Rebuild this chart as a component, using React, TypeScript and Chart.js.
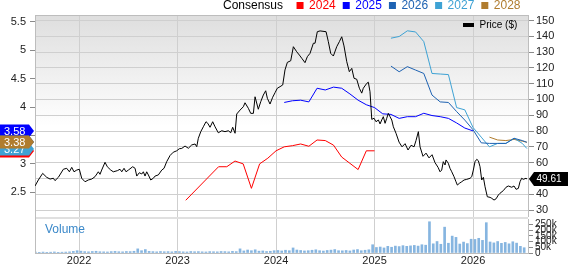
import React, { useEffect, useRef } from 'react';
import { Chart, registerables } from 'chart.js';

Chart.register(...registerables);

const FONT = 'Liberation Sans, Arial, sans-serif';

// ---- axis ranges / ticks ----
const xMin = 2021.553;
const xMax = 2026.558;
const yearTicks = [2022, 2023, 2024, 2025, 2026];
const epsMin = 2.066;
const epsMax = 5.618;
const epsTicks = [2.5, 3, 3.5, 4, 4.5, 5, 5.5];
const priceMin = 25.57;
const priceMax = 153.48;
const priceTicks = [30, 40, 50, 60, 70, 80, 90, 100, 110, 120, 130, 140, 150];
const volMax = 296;
const volTicks = [0, 50, 100, 150, 200, 250];

// ---- price (decimal year, $) ----
const priceDates = [2021.553,2021.587,2021.631,2021.672,2021.706,2021.739,2021.756,2021.790,2021.841,2021.875,2021.902,2021.926,2021.949,2021.977,2022.003,2022.027,2022.061,2022.094,2022.129,2022.162,2022.196,2022.213,2022.230,2022.264,2022.287,2022.322,2022.348,2022.389,2022.416,2022.434,2022.457,2022.477,2022.501,2022.545,2022.569,2022.586,2022.612,2022.637,2022.653,2022.670,2022.687,2022.704,2022.728,2022.754,2022.772,2022.805,2022.840,2022.863,2022.890,2022.924,2022.957,2022.992,2023.018,2023.043,2023.076,2023.110,2023.144,2023.178,2023.195,2023.211,2023.236,2023.262,2023.289,2023.307,2023.330,2023.357,2023.381,2023.414,2023.449,2023.482,2023.516,2023.540,2023.560,2023.584,2023.601,2023.635,2023.668,2023.685,2023.719,2023.743,2023.770,2023.787,2023.820,2023.845,2023.871,2023.895,2023.912,2023.939,2023.966,2023.990,2024.013,2024.041,2024.068,2024.091,2024.115,2024.149,2024.176,2024.210,2024.237,2024.261,2024.294,2024.318,2024.345,2024.379,2024.396,2024.419,2024.447,2024.508,2024.531,2024.555,2024.582,2024.616,2024.643,2024.667,2024.690,2024.718,2024.744,2024.769,2024.792,2024.819,2024.846,2024.870,2024.886,2024.921,2024.937,2024.954,2024.972,2024.995,2025.015,2025.039,2025.056,2025.073,2025.089,2025.107,2025.124,2025.140,2025.157,2025.175,2025.191,2025.218,2025.249,2025.279,2025.310,2025.340,2025.371,2025.401,2025.421,2025.445,2025.462,2025.492,2025.523,2025.553,2025.584,2025.614,2025.645,2025.665,2025.682,2025.698,2025.716,2025.726,2025.749,2025.766,2025.784,2025.807,2025.827,2025.841,2025.861,2025.885,2025.909,2025.936,2025.970,2025.987,2026.003,2026.020,2026.038,2026.054,2026.071,2026.088,2026.105,2026.122,2026.145,2026.173,2026.190,2026.213,2026.234,2026.257,2026.274,2026.308,2026.335,2026.358,2026.393,2026.416,2026.437,2026.460,2026.477,2026.494,2026.510,2026.538,2026.548];
const priceValues = [45.2,49.0,53.2,50.7,49.6,50.1,48.6,50.7,55.8,56.4,54.2,57.0,54.2,55.3,55.8,50.1,47.9,49.0,49.6,51.1,54.2,52.6,55.3,60.2,57.4,55.3,54.2,54.9,55.8,54.2,56.4,54.2,55.3,57.4,56.4,51.5,53.6,52.8,54.2,51.5,54.2,52.2,49.0,50.1,51.5,52.2,55.3,56.4,60.6,64.5,66.6,67.5,68.8,69.0,70.5,69.1,71.2,71.8,70.1,75.4,79.6,82.7,85.9,84.9,82.4,85.9,82.7,78.9,80.2,79.6,80.2,78.9,82.4,78.6,90.8,93.3,95.4,97.9,94.4,91.2,91.2,101.7,93.8,98.6,102.8,105.5,100.7,97.1,101.4,104.3,107.1,108.1,109.2,118.7,123.5,124.5,133.4,130.2,128.1,126.1,123.3,127.1,129.2,135.6,135.6,142.9,143.4,142.9,136.6,129.2,127.5,133.4,136.6,139.7,133.9,123.9,117.6,119.7,113.4,112.8,107.1,104.0,107.1,110.2,110.9,104.9,87.4,88.1,85.9,87.0,84.5,87.0,89.1,84.9,88.1,91.2,89.1,87.0,82.7,78.6,73,70,72,68,71,70,74,79.6,70,64,66,63,65,60,57,54.2,55.3,60.6,58.5,61.7,59.6,56.4,54.2,51.1,47.9,45.8,46.9,47.9,49.0,49.4,50.1,51.1,55.3,60.6,62.1,61.2,57.4,49.0,50.7,44.7,38.4,38.0,37.4,36.3,37.1,39.5,40.6,42.3,44.4,45.2,44.4,45.2,43.1,43.7,47.9,50.1,49.4,50.1,49.61];
const lastPrice = 49.61;

// ---- consensus EPS (monthly, from start month) ----
const consensusLatestDate = '2026-07-18';
const eps2024Start = '2023-02';
const eps2024Values = [2.36, null, null, null, 2.95, 2.95, 3.05, 3.00, 2.57, 3.00, 3.10, 3.23, 3.30, 3.32, 3.35, 3.31, 3.42, 3.41, 3.33, 3.12, 3.01, 2.90, 3.23, 3.23];
const eps2025Start = '2024-02';
const eps2025Values = [4.08, 4.11, 4.12, 4.09, 4.33, 4.30, 4.35, 4.33, 4.23, 4.12, 4.04, 3.99, 3.88, 3.87, 3.80, 3.83, 3.83, 3.89, 3.85, 3.83, 3.80, 3.72, 3.63, 3.58];
const eps2026Start = '2025-03';
const eps2026Values = [4.72, 4.62, 4.71, 4.65, 4.59, 4.21, 4.09, 4.08, 3.92, 3.77, 3.60, 3.37, 3.36, 3.36, 3.36, 3.45, 3.41];
const eps2026Latest = 3.38;
const eps2027Start = '2025-03';
const eps2027Values = [5.21, 5.24, 5.34, 5.32, 5.15, 4.59, 4.58, 4.57, 3.99, 3.95, 3.64, 3.47, 3.30, 3.36, 3.36, 3.45, 3.36];
const eps2027Latest = 3.27;
const eps2028Start = '2026-03';
const eps2028Values = [3.47, 3.42, 3.41, 3.43, 3.40];
const eps2028Latest = 3.38;

const consensusYears = ['2024', '2025', '2026', '2027', '2028'];
const consensusColors = ['#ff0000', '#0000ff', '#1e62b2', '#3ea2d4', '#b07c2e'];

// ---- volume (thousands, two-week buckets) ----
const vol2021 = [7, 6, 8, 6, 7, 9, 6, 7, 8, 10, 14, 20];
const vol2022 = [16, 12, 10, 13, 15, 11, 10, 9, 12, 14, 11, 10, 13, 12, 15, 36, 20, 30, 14, 12, 10, 13, 11, 12, 10, 14];
const vol2023 = [12, 10, 9, 13, 11, 12, 10, 9, 12, 11, 10, 13, 12, 10, 14, 12, 36, 18, 26, 20, 28, 16, 18, 13, 15, 20];
const vol2024 = [22, 18, 24, 20, 44, 26, 22, 18, 20, 24, 28, 20, 17, 22, 25, 30, 20, 19, 22, 18, 26, 30, 20, 24, 28, 72];
const vol2025 = [48, 52, 44, 58, 50, 60, 56, 64, 58, 62, 66, 60, 72, 68, 272, 80, 100, 76, 225, 85, 147, 136, 78, 95, 82, 120];
const vol2026 = [118, 128, 110, 264, 96, 88, 100, 84, 92, 80, 98, 86, 58, 46];

function monthToYear(s: string): number {
  const [y, m, d] = s.split('-').map(Number);
  return y + (m - 1) / 12 + (d ? (d - 1) / 365 : 0);
}

function monthlySeries(start: string, values: (number | null)[], latest?: number) {
  const s = monthToYear(start);
  const pts = values.map((v, i) => ({ x: s + i / 12, y: v }));
  if (latest !== undefined) pts.push({ x: monthToYear(consensusLatestDate), y: latest });
  return pts;
}

function volumePoints() {
  const pts: { x: number; y: number }[] = [];
  vol2021.forEach((v, i) => pts.push({ x: 2022 - (vol2021.length - i - 0.5) / 26, y: v }));
  const years: [number, number[]][] = [[2022, vol2022], [2023, vol2023], [2024, vol2024], [2025, vol2025], [2026, vol2026]];
  years.forEach(([yr, arr]) => arr.forEach((v, i) => pts.push({ x: yr + (i + 0.5) / 26, y: v })));
  return pts;
}

const GRID = '#cfcfcf';
const BORDER = '#bdbdbd';
const TICKC = '#8a8a8a';
const LABEL = '#222222';

const noPad = (s: any) => {
  s.paddingTop = 0;
  s.paddingBottom = 0;
  s.paddingLeft = 0;
  s.paddingRight = 0;
};

const bgPlugin = {
  id: 'bgA',
  beforeDraw(chart: any) {
    const { ctx, chartArea } = chart;
    const { left, top, right, bottom } = chartArea;
    const g = ctx.createLinearGradient(0, top, 0, bottom);
    g.addColorStop(0, '#dedede');
    g.addColorStop(0.55, '#ffffff');
    g.addColorStop(1, '#ffffff');
    ctx.save();
    ctx.fillStyle = g;
    ctx.fillRect(left, top, right - left, bottom - top);
    ctx.restore();
  },
};

function lastOf(arr: (number | null)[]) {
  for (let i = arr.length - 1; i >= 0; i--) if (arr[i] !== null) return arr[i] as number;
  return 0;
}

const overlayPlugin = {
  id: 'overlayA',
  afterDraw(chart: any) {
    const { ctx, chartArea, scales } = chart;
    const { left, top, right } = chartArea;
    ctx.save();
    // top border
    ctx.strokeStyle = BORDER;
    ctx.lineWidth = 1;
    ctx.beginPath();
    ctx.moveTo(left, top + 0.5);
    ctx.lineTo(right, top + 0.5);
    ctx.stroke();

    // consensus legend
    ctx.font = `12px ${FONT}`;
    ctx.textBaseline = 'middle';
    ctx.textAlign = 'left';
    let x = 223;
    ctx.fillStyle = '#000';
    ctx.fillText('Consensus', x, 6);
    x += ctx.measureText('Consensus').width + 13.5;
    consensusYears.forEach((yr, i) => {
      ctx.fillStyle = consensusColors[i];
      ctx.fillRect(x, 2, 7, 7);
      x += 7 + 5.5;
      ctx.fillText(yr, x, 6);
      x += ctx.measureText(yr).width + 7;
    });

    // price legend
    ctx.fillStyle = '#000';
    ctx.fillRect(463, 23, 11, 4);
    ctx.font = `10px ${FONT}`;
    ctx.fillText('Price ($)', 479.5, 25.5);

    // left EPS badges
    const yEps = scales.yEps;
    const badges: [number, string][] = [
      [lastOf(eps2025Values), consensusColors[1]],
      [lastOf(eps2024Values), consensusColors[0]],
      [eps2026Latest, consensusColors[2]],
      [eps2027Latest, consensusColors[3]],
      [eps2028Latest, consensusColors[4]],
    ];
    ctx.font = `11px ${FONT}`;
    badges.forEach(([v, c]) => {
      const y = Math.round(yEps.getPixelForValue(v));
      ctx.fillStyle = c;
      ctx.beginPath();
      ctx.moveTo(0, y - 6.5);
      ctx.lineTo(29, y - 6.5);
      ctx.lineTo(34, y);
      ctx.lineTo(29, y + 6.5);
      ctx.lineTo(0, y + 6.5);
      ctx.closePath();
      ctx.fill();
      ctx.fillStyle = '#ffffff';
      ctx.fillText(v.toFixed(2), 4, y + 0.5);
    });

    // right price badge
    const yP = Math.round(scales.yPrice.getPixelForValue(lastPrice));
    ctx.fillStyle = '#000';
    ctx.beginPath();
    ctx.moveTo(right + 1, yP);
    ctx.lineTo(right + 6, yP - 7);
    ctx.lineTo(568, yP - 7);
    ctx.lineTo(568, yP + 7);
    ctx.lineTo(right + 6, yP + 7);
    ctx.closePath();
    ctx.fill();
    ctx.fillStyle = '#fff';
    ctx.font = `10px ${FONT}`;
    ctx.fillText(lastPrice.toFixed(2), 536.5, yP + 0.5);
    ctx.restore();
  },
};

const volPlugin = {
  id: 'volB',
  beforeDraw(chart: any) {
    const { ctx, chartArea } = chart;
    const { left, top, right, bottom } = chartArea;
    ctx.save();
    ctx.fillStyle = '#ffffff';
    ctx.fillRect(left, top, right - left, bottom - top);
    ctx.fillStyle = '#e0e0e0';
    ctx.fillRect(left, 0, right - left, top);
    ctx.restore();
  },
  afterDraw(chart: any) {
    const { ctx, chartArea } = chart;
    const { left, top, bottom } = chartArea;
    ctx.save();
    ctx.strokeStyle = BORDER;
    ctx.lineWidth = 1;
    ctx.beginPath();
    ctx.moveTo(left + 0.5, 0);
    ctx.lineTo(left + 0.5, bottom);
    ctx.stroke();
    ctx.fillStyle = '#3a88c9';
    ctx.font = `12px ${FONT}`;
    ctx.textBaseline = 'middle';
    ctx.textAlign = 'left';
    ctx.fillText('Volume', 45, top + 10.5);
    ctx.restore();
  },
};

export default function App() {
  const aRef = useRef<HTMLCanvasElement>(null);
  const bRef = useRef<HTMLCanvasElement>(null);

  useEffect(() => {
    const lineDs = (label: string, data: any[], color: string, axis: string, width = 1) => ({
      label,
      data,
      borderColor: color,
      backgroundColor: color,
      borderWidth: width,
      pointRadius: 0,
      tension: 0,
      spanGaps: true,
      yAxisID: axis,
    });

    const chartA = new Chart(aRef.current as HTMLCanvasElement, {
      type: 'line',
      data: {
        datasets: [
          lineDs('Price ($)', priceDates.map((d, i) => ({ x: d, y: priceValues[i] })), '#000000', 'yPrice'),
          lineDs('2024', monthlySeries(eps2024Start, eps2024Values), consensusColors[0], 'yEps'),
          lineDs('2025', monthlySeries(eps2025Start, eps2025Values), consensusColors[1], 'yEps'),
          lineDs('2026', monthlySeries(eps2026Start, eps2026Values, eps2026Latest), consensusColors[2], 'yEps'),
          lineDs('2027', monthlySeries(eps2027Start, eps2027Values, eps2027Latest), consensusColors[3], 'yEps'),
          lineDs('2028', monthlySeries(eps2028Start, eps2028Values, eps2028Latest), consensusColors[4], 'yEps'),
        ] as any,
      },
      options: {
        responsive: false,
        animation: false,
        layout: { padding: { top: 15, left: 0, right: 0, bottom: 0 } },
        plugins: { legend: { display: false }, tooltip: { enabled: false } },
        scales: {
          x: {
            type: 'linear',
            min: xMin,
            max: xMax,
            grid: { color: GRID, drawTicks: false },
            border: { display: false },
            ticks: { display: false },
            afterBuildTicks: (s: any) => { s.ticks = yearTicks.map((v) => ({ value: v })); },
            afterFit: (s: any) => { s.height = 0; noPad(s); },
          },
          yEps: {
            type: 'linear',
            position: 'left',
            min: epsMin,
            max: epsMax,
            grid: { drawOnChartArea: false, tickLength: 5, tickColor: TICKC },
            border: { color: BORDER },
            ticks: { autoSkip: false, padding: 4, color: LABEL, font: { family: FONT, size: 11 }, callback: (v: any) => String(v) },
            afterBuildTicks: (s: any) => { s.ticks = epsTicks.map((v) => ({ value: v })); },
            afterFit: (s: any) => { s.width = 35; noPad(s); },
          },
          yPrice: {
            type: 'linear',
            position: 'right',
            min: priceMin,
            max: priceMax,
            grid: { color: GRID, tickLength: 6, tickColor: TICKC },
            border: { color: BORDER },
            ticks: { autoSkip: false, padding: 2, color: LABEL, font: { family: FONT, size: 11 }, callback: (v: any) => String(v) },
            afterBuildTicks: (s: any) => { s.ticks = priceTicks.map((v) => ({ value: v })); },
            afterFit: (s: any) => { s.width = 40; noPad(s); },
          },
        },
      } as any,
      plugins: [bgPlugin, overlayPlugin],
    });

    const chartB = new Chart(bRef.current as HTMLCanvasElement, {
      type: 'bar',
      data: {
        datasets: [
          {
            label: 'Volume',
            data: volumePoints(),
            backgroundColor: '#86b5e0',
            borderWidth: 0,
            barThickness: 2,
            yAxisID: 'yVol',
          },
        ] as any,
      },
      options: {
        responsive: false,
        animation: false,
        layout: { padding: { top: 2, left: 35, right: 0, bottom: 0 } },
        plugins: { legend: { display: false }, tooltip: { enabled: false } },
        scales: {
          x: {
            type: 'linear',
            min: xMin,
            max: xMax,
            offset: false,
            grid: { color: GRID, drawTicks: false, offset: false },
            border: { color: BORDER },
            ticks: { autoSkip: false, maxRotation: 0, padding: 1, color: LABEL, font: { family: FONT, size: 11 }, callback: (v: any) => String(v) },
            afterBuildTicks: (s: any) => { s.ticks = yearTicks.map((v) => ({ value: v })); },
            afterFit: (s: any) => { s.height = 11; noPad(s); },
          },
          yVol: {
            type: 'linear',
            position: 'right',
            min: 0,
            max: volMax,
            grid: { drawOnChartArea: false, tickLength: 5, tickColor: TICKC },
            border: { color: BORDER },
            ticks: { autoSkip: false, padding: 2, color: LABEL, font: { family: FONT, size: 10 }, callback: (v: any) => (v === 0 ? '0' : `${v}k`) },
            afterBuildTicks: (s: any) => { s.ticks = volTicks.map((v) => ({ value: v })); },
            afterFit: (s: any) => { s.width = 40; noPad(s); },
          },
        },
      } as any,
      plugins: [volPlugin],
    });

    return () => {
      chartA.destroy();
      chartB.destroy();
    };
  }, []);

  return (
    <div style={{ position: 'absolute', left: 0, top: 0, width: 568, height: 264, background: '#ffffff', overflow: 'hidden' }}>
      <canvas ref={aRef} width={568} height={217} style={{ position: 'absolute', left: 0, top: 0 }} />
      <canvas ref={bRef} width={568} height={47} style={{ position: 'absolute', left: 0, top: 217 }} />
    </div>
  );
}
